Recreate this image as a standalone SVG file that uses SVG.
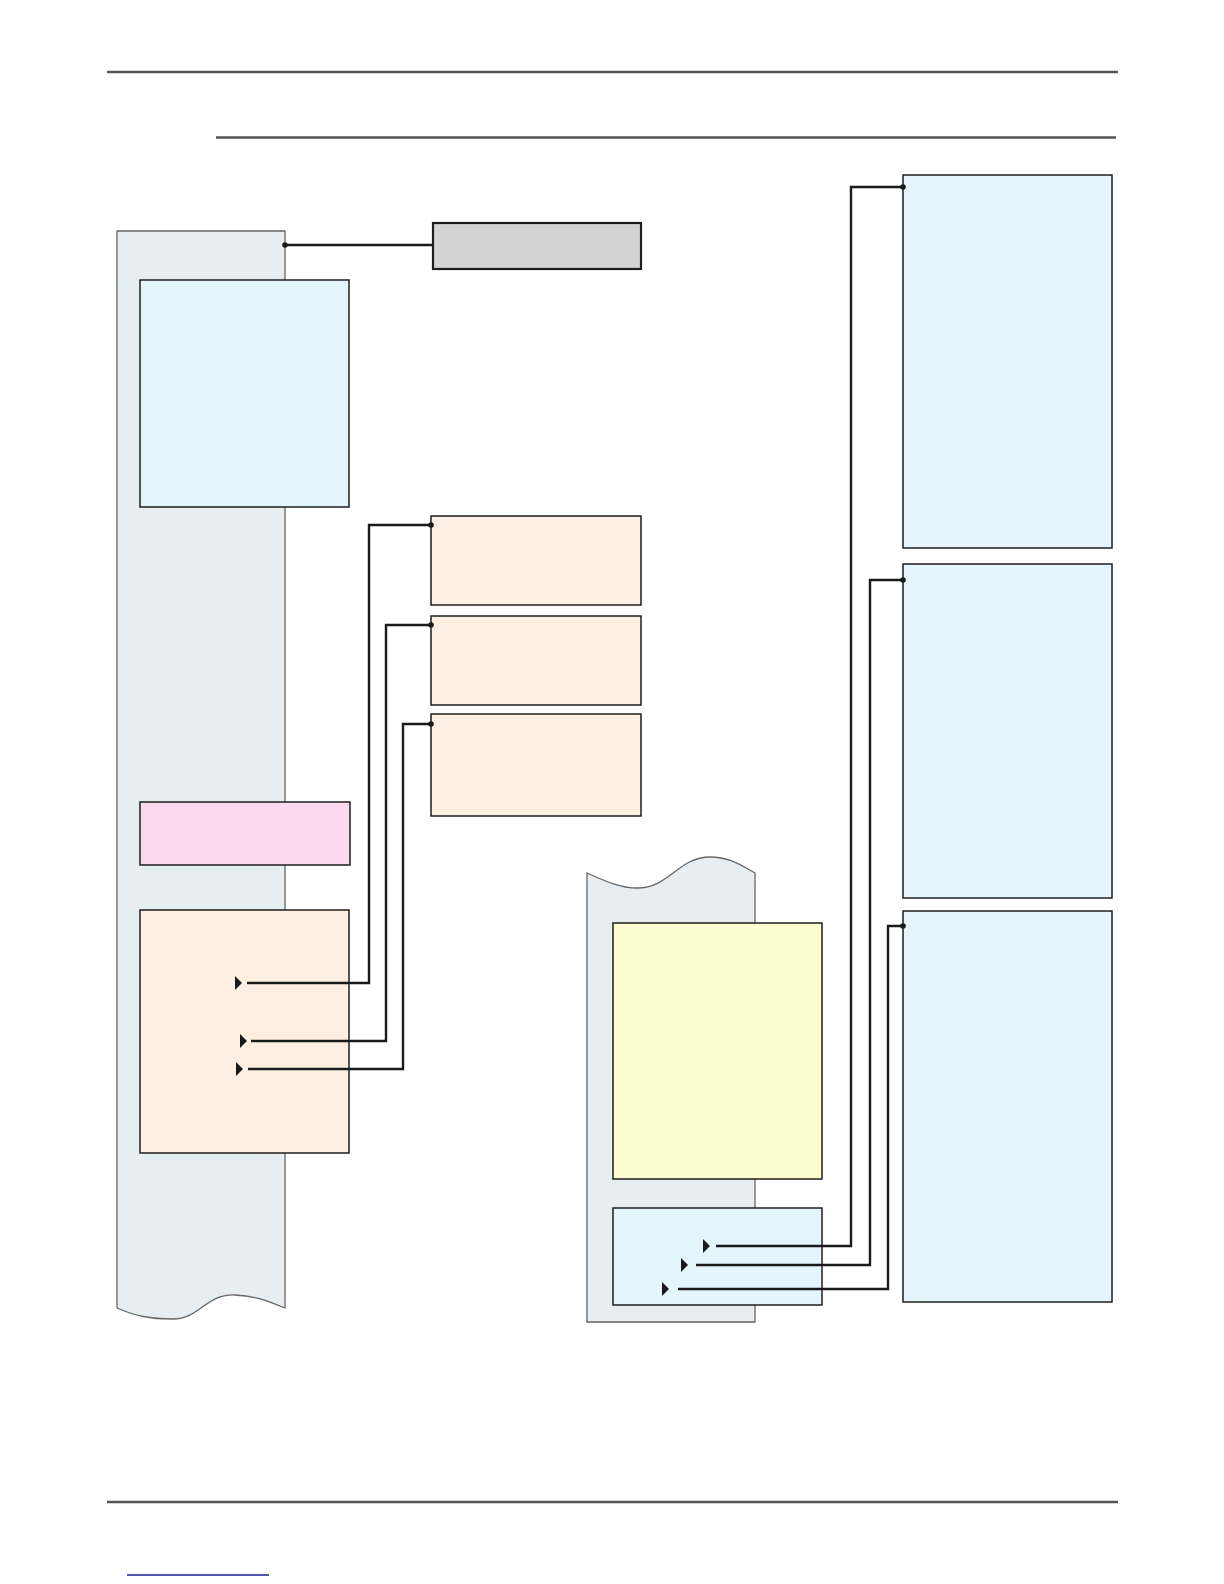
<svg xmlns="http://www.w3.org/2000/svg" width="1224" height="1584" viewBox="0 0 1224 1584">
<defs>
<style>
.rule{stroke:#555;stroke-width:2.5;fill:none}
.panel{fill:#e7eef1;stroke:#666;stroke-width:1.3}
.box{stroke:#1e1e1e;stroke-width:1.5}
.blue{fill:#e4f5fb}
.orange{fill:#fdf0e3}
.pink{fill:#fcd9ef}
.yellow{fill:#fefdd0}
.gray{fill:#d3d3d3;stroke:#1e1e1e;stroke-width:2.2}
.wire{fill:none;stroke:#1a1a1a;stroke-width:2.4}
.dot{fill:#1a1a1a}
.tri{fill:#1a1a1a}
</style>
</defs>
<rect width="1224" height="1584" fill="#fff"/>
<g id="rules">
<line class="rule" x1="107" y1="72" x2="1118" y2="72"/>
<line class="rule" x1="216" y1="137.5" x2="1116" y2="137.5"/>
<line class="rule" x1="107" y1="1502" x2="1118" y2="1502"/>
<line x1="127" y1="1575" x2="269" y2="1575" stroke="#1a1a8c" stroke-width="1.5"/>
</g>
<g id="panel-left">
<path class="panel" d="M117,231 H285 V1308 C265,1300 255,1296 235,1295 C205,1294 200,1319 173,1319 C150,1319 135,1316 117,1308 Z"/>
</g>
<g id="panel-mid">
<path class="panel" d="M587,873 C605,881 620,888 637,888 C670,888 678,857 710,857 C730,857 742,866 755,873 V1322 H587 Z"/>
</g>
<g id="box-gray"><rect class="gray" x="433" y="223" width="208" height="46"/></g>
<g id="box-blue1"><rect class="box blue" x="140" y="280" width="209" height="227"/></g>
<g id="box-pink"><rect class="box pink" x="140" y="802" width="210" height="63"/></g>
<g id="box-orangeL"><rect class="box orange" x="140" y="910" width="209" height="243"/></g>
<g id="box-A"><rect class="box orange" x="431" y="516" width="210" height="89"/></g>
<g id="box-B"><rect class="box orange" x="431" y="616" width="210" height="89"/></g>
<g id="box-C"><rect class="box orange" x="431" y="714" width="210" height="102"/></g>
<g id="box-yellow"><rect class="box yellow" x="613" y="923" width="209" height="256"/></g>
<g id="box-blue2"><rect class="box blue" x="613" y="1208" width="209" height="97"/></g>
<g id="box-R1"><rect class="box blue" x="903" y="175" width="209" height="373"/></g>
<g id="box-R2"><rect class="box blue" x="903" y="564" width="209" height="334"/></g>
<g id="box-R3"><rect class="box blue" x="903" y="911" width="209" height="391"/></g>
<g id="connectors">
<line class="wire" x1="285" y1="245" x2="433" y2="245"/>
<circle class="dot" cx="285" cy="245" r="2.8"/>
<polyline class="wire" points="431,525 369,525 369,983 247,983"/>
<circle class="dot" cx="431" cy="525" r="2.8"/>
<polygon class="tri" points="235,976 242,983 235,990"/>
<polyline class="wire" points="431,625 386,625 386,1041 251,1041"/>
<circle class="dot" cx="431" cy="625" r="2.8"/>
<polygon class="tri" points="240,1034 247,1041 240,1048"/>
<polyline class="wire" points="431,724 403,724 403,1069 248,1069"/>
<circle class="dot" cx="431" cy="724" r="2.8"/>
<polygon class="tri" points="236,1062 243,1069 236,1076"/>
<polyline class="wire" points="903,187 851,187 851,1246 716,1246"/>
<circle class="dot" cx="903" cy="187" r="2.8"/>
<polygon class="tri" points="703,1239 710,1246 703,1253"/>
<polyline class="wire" points="903,580 870,580 870,1265 696,1265"/>
<circle class="dot" cx="903" cy="580" r="2.8"/>
<polygon class="tri" points="681,1258 688,1265 681,1272"/>
<polyline class="wire" points="903,926 888,926 888,1289 678,1289"/>
<circle class="dot" cx="903" cy="926" r="2.8"/>
<polygon class="tri" points="662,1282 669,1289 662,1296"/>
</g>
</svg>
